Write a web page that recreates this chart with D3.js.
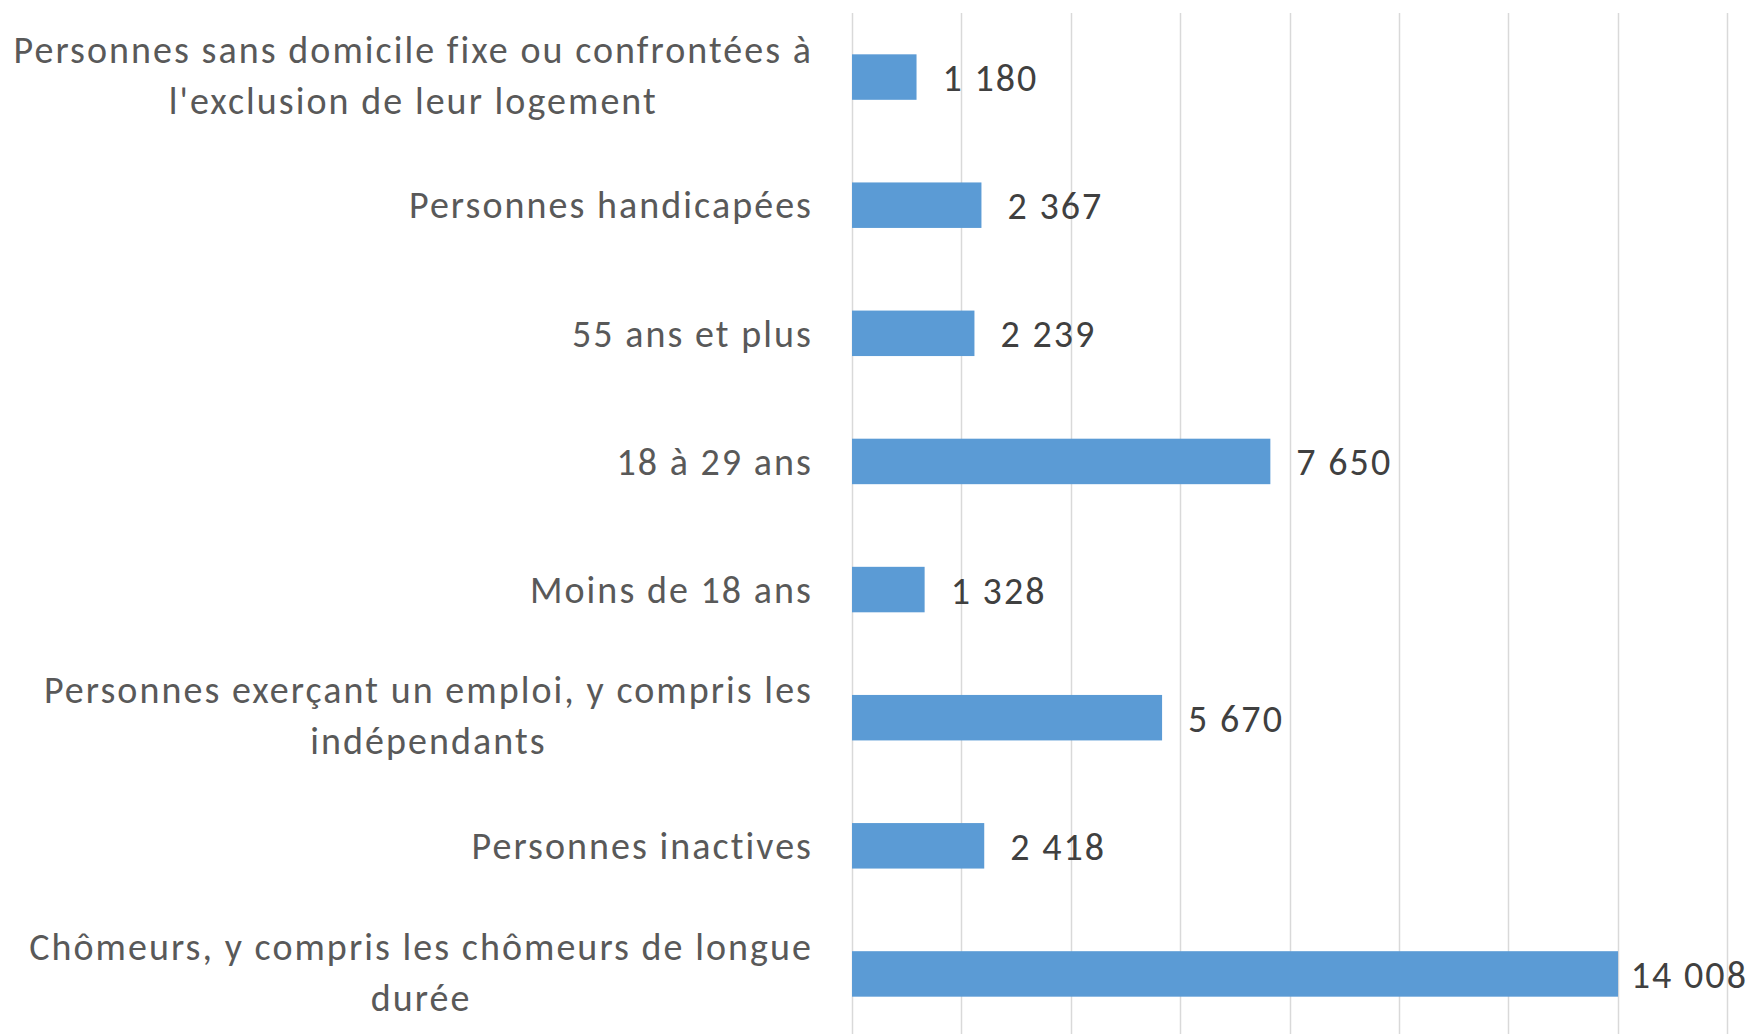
<!DOCTYPE html>
<html>
<head>
<meta charset="utf-8">
<script src="https://cdn.jsdelivr.net/npm/d3@7"></script>
<style>
  html, body { margin: 0; padding: 0; background: #fff; }
  svg { display: block; }
  text { font-family: Carlito, Calibri, Lato, "Open Sans", sans-serif; letter-spacing: 2.05px; }
</style>
</head>
<body>
<svg id="chart" width="1753" height="1034"></svg>
<script>
// Categories, top to bottom; "\n" marks a line break in the label
const categories = [
  "Personnes sans domicile fixe ou confrontées à\nl'exclusion de leur logement",
  "Personnes handicapées",
  "55 ans et plus",
  "18 à 29 ans",
  "Moins de 18 ans",
  "Personnes exerçant un emploi, y compris les\nindépendants",
  "Personnes inactives",
  "Chômeurs, y compris les chômeurs de longue\ndurée"
];
const values = [1180, 2367, 2239, 7650, 1328, 5670, 2418, 14008];
const gridTicks = [0, 2000, 4000, 6000, 8000, 10000, 12000, 14000, 16000];

const W = 1753, H = 1034;
const margin = { top: 13, right: 26, left: 852 };
const svg = d3.select("#chart");

const x = d3.scaleLinear()
  .domain([0, 16000])
  .range([margin.left, W - margin.right]);

const y = d3.scaleBand()
  .domain(categories)
  .range([13, 1038])
  .paddingInner(0.645)
  .paddingOuter(0.3225);

const fmt = d3.formatLocale({ decimal: ",", thousands: " ", grouping: [3], currency: ["", " €"] }).format(",d");
const fontSize = 38;

// Vertical gridlines
svg.append("g").selectAll("line")
  .data(gridTicks)
  .join("line")
  .attr("x1", d => Math.round(x(d)) + 0.5)
  .attr("x2", d => Math.round(x(d)) + 0.5)
  .attr("y1", margin.top)
  .attr("y2", H)
  .attr("stroke", "#d9d9d9")
  .attr("stroke-width", 1.5);

// Bars
svg.append("g").selectAll("rect")
  .data(values)
  .join("rect")
  .attr("x", x(0))
  .attr("y", (d, i) => y(categories[i]))
  .attr("width", d => x(d) - x(0))
  .attr("height", y.bandwidth())
  .attr("fill", "#5b9bd5");

// Value labels, kept inside the right edge of the chart
svg.append("g").selectAll("text")
  .data(values)
  .join("text")
  .attr("y", (d, i) => y(categories[i]) + y.bandwidth() / 2)
  .attr("dy", "0.37em")
  .attr("font-size", fontSize)
  .attr("fill", "#404040")
  .text(d => fmt(d))
  .each(function (d) {
    const w = this.getComputedTextLength();
    d3.select(this).attr("x", Math.min(x(d) + 26, W - 5 - w));
  });

// Category labels: block right-aligned, lines centred within the block
const labelRight = 813;
const lineGap = 51;
const labels = svg.append("g");
categories.forEach(cat => {
  const lines = cat.split("\n");
  const cy = y(cat) + y.bandwidth() / 2 - (lines.length > 1 ? 2 : 0);
  const t = labels.append("text")
    .attr("font-size", fontSize)
    .attr("fill", "#595959")
    .attr("text-anchor", "middle");
  lines.forEach((ln, k) => {
    t.append("tspan")
      .attr("y", cy + (k - (lines.length - 1) / 2) * lineGap)
      .attr("dy", "0.35em")
      .text(ln);
  });
  const maxW = d3.max(t.selectAll("tspan").nodes(), n => n.getComputedTextLength());
  t.selectAll("tspan").attr("x", labelRight - maxW / 2);
});
</script>
</body>
</html>
